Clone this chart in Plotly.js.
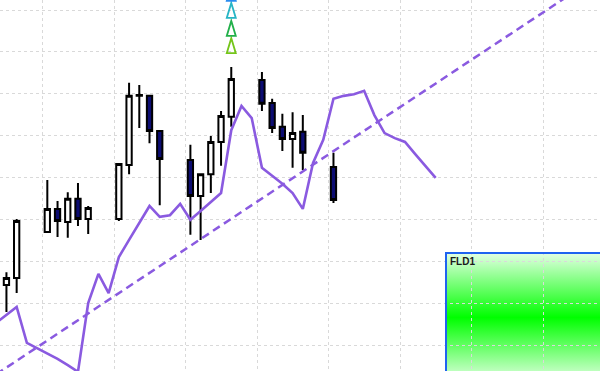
<!DOCTYPE html>
<html>
<head>
<meta charset="utf-8">
<script src="https://cdn.plot.ly/plotly-3.0.1.min.js"></script>
<style>html,body{margin:0;padding:0;background:#fff;}#chart{width:600px;height:371px;}</style>
</head>
<body>
<div id="chart"></div>
<script>
// Candles: trading-day index (0 = first Monday), OHLC in price units
const candleDay   = [-4, -3, 0, 1, 2, 3, 4, 7, 8, 9, 10, 11, 14, 15, 16, 17, 18, 21, 22, 23, 24, 25, 28];
const candleOpen  = [11.43, 11.60, 12.70, 13.25, 12.94, 13.49, 13.01, 13.01, 14.30, 15.95, 15.95, 15.11, 14.42, 13.56, 14.08, 14.85, 15.45, 16.33, 15.78, 15.21, 14.92, 15.09, 14.25];
const candleHigh  = [11.74, 13.01, 13.94, 13.44, 13.65, 13.87, 13.32, 14.32, 16.26, 16.21, 15.95, 15.11, 14.78, 14.08, 14.99, 15.59, 16.64, 16.52, 15.88, 15.52, 15.56, 15.49, 14.59];
const candleLow   = [10.79, 11.24, 12.68, 12.58, 12.56, 12.84, 12.65, 12.96, 14.08, 15.18, 14.82, 13.34, 12.63, 12.51, 13.63, 14.28, 15.21, 15.59, 15.06, 14.63, 14.23, 14.18, 13.39];
const candleClose = [11.60, 12.96, 13.25, 12.96, 13.49, 13.01, 13.27, 14.32, 15.95, 15.97, 15.11, 14.44, 13.56, 14.08, 14.85, 15.47, 16.35, 15.76, 15.18, 14.92, 15.06, 14.59, 13.46];

// FLD line (one point per calendar day)
const fldDay = [-5,-4,-3,-2,-1,0,1,2,3,4,5,6,7,8,9,10,11,12,13,14,15,16,17,18,19,20,21,22,23,24,25,26,27,28,29,30,31,32,33,34,35,36,37,38];
const fldVal = [10.53,10.72,10.91,10.05,9.93,9.79,9.67,9.52,9.36,11.00,11.70,11.24,12.10,12.51,12.91,13.32,13.06,13.10,13.37,12.99,13.20,13.42,13.63,15.13,15.71,15.42,14.23,14.04,13.85,13.63,13.25,14.35,14.90,15.88,15.95,15.99,16.07,15.49,15.06,14.94,14.85,14.56,14.28,13.99];

// Dashed trend line end points
const trendDay = [-5, 55];
const trendVal = [9.30, 18.99];

// Signal triangles (day index, base level, colour)
const signalDay   = [18, 18, 18, 18];
const signalLevel = [16.97, 17.38, 17.81, 18.22];
const signalColor = ['#74c51a', '#22b04a', '#27b5c5', '#2b8cf0'];

// Panel label
const panelLabel = 'FLD1';

const traces = [
  {
    type: 'scatter', mode: 'lines', x: trendDay, y: trendVal,
    line: {color: '#8a5ae0', width: 2.5, dash: '8px,5px'}, hoverinfo: 'skip'
  },
  {
    type: 'scatter', mode: 'lines', x: fldDay, y: fldVal,
    line: {color: '#8a5ae0', width: 2.6}, hoverinfo: 'skip'
  },
  {
    type: 'candlestick', x: candleDay, open: candleOpen, high: candleHigh, low: candleLow, close: candleClose,
    increasing: {line: {color: '#000000', width: 2}, fillcolor: '#ffffff'},
    decreasing: {line: {color: '#000000', width: 2}, fillcolor: '#0c0c72'},
    whiskerwidth: 0, hoverinfo: 'skip'
  }
];

const shapes = signalDay.map((d, i) => ({
  type: 'path', xref: 'x', yref: 'y', xsizemode: 'pixel', ysizemode: 'pixel',
  xanchor: d, yanchor: signalLevel[i],
  path: 'M-4.5,0L4.5,0L0,15Z',
  line: {color: signalColor[i], width: 1.8}, fillcolor: 'rgba(0,0,0,0)', layer: 'above'
}));
shapes.push({
  type: 'rect', xref: 'paper', yref: 'paper', x0: 446/600, x1: 1.05, y0: -0.1, y1: (371-253)/371,
  line: {color: '#1f63f0', width: 2}, fillcolor: 'rgba(0,0,0,0)', layer: 'above'
});

const grad = '<svg xmlns="http://www.w3.org/2000/svg" width="10" height="100" preserveAspectRatio="none">' +
  '<defs><linearGradient id="g" x1="0" y1="0" x2="0" y2="1">' +
  '<stop offset="0" stop-color="#e4ffe4"/><stop offset="0.5" stop-color="#00ff00"/><stop offset="1" stop-color="#e4ffe4"/>' +
  '</linearGradient></defs><rect width="10" height="100" fill="url(#g)"/></svg>';

const layout = {
  width: 600, height: 371,
  margin: {l: 0, r: 0, t: 0, b: 0, pad: 0},
  paper_bgcolor: '#ffffff', plot_bgcolor: '#ffffff',
  showlegend: false,
  boxgap: 0.26,
  xaxis: {
    type: 'linear', range: [-4.63, 54.08], showticklabels: false, ticks: '',
    tick0: -0.45, dtick: 7, showgrid: true, gridcolor: '#d9d9d9', gridwidth: 1, griddash: 'dot',
    zeroline: false, showline: false, rangeslider: {visible: false}, fixedrange: true
  },
  yaxis: {
    range: [9.379, 18.239], showticklabels: false, ticks: '',
    tick0: 0, dtick: 1, showgrid: true, gridcolor: '#d9d9d9', gridwidth: 1, griddash: 'dot',
    zeroline: false, showline: false, fixedrange: true
  },
  shapes: shapes,
  images: [{
    source: 'data:image/svg+xml;charset=utf-8,' + encodeURIComponent(grad),
    xref: 'paper', yref: 'paper', x: 446/600, y: (371-253)/371,
    sizex: 0.27, sizey: (382-253)/371, xanchor: 'left', yanchor: 'top',
    sizing: 'stretch', layer: 'below'
  }],
  annotations: [{
    text: '<b>' + panelLabel + '</b>', xref: 'paper', yref: 'paper', x: 448/600, y: (371-254)/371,
    xanchor: 'left', yanchor: 'top', showarrow: false,
    font: {family: 'Liberation Sans, Arial, sans-serif', size: 10, color: '#1a1a1a'}
  }]
};

Plotly.newPlot('chart', traces, layout, {staticPlot: true, displayModeBar: false});
</script>
</body>
</html>
